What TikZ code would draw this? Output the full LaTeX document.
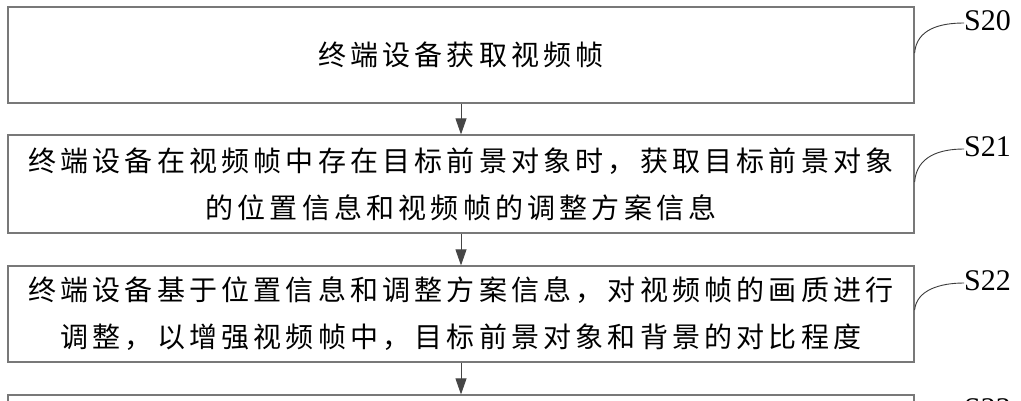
\documentclass[tikz,border=0pt]{standalone}
\usepackage{fontspec}
\newfontfamily\cjk[LetterSpace=15]{Noto Sans CJK SC}
\newfontfamily\labfont{Liberation Serif}
\usetikzlibrary{arrows.meta}
\definecolor{boxgray}{RGB}{120,120,120}
\definecolor{arrowgray}{RGB}{70,70,70}
\definecolor{leadgray}{RGB}{60,60,60}
\begin{document}
\begin{tikzpicture}[x=1pt,y=-1pt,
  stepbox/.style={draw=boxgray, line width=1.2pt, minimum width=906pt, inner sep=0pt, align=center, font=\cjk\fontsize{28}{47}\selectfont, text=black},
  flow/.style={draw=arrowgray, line width=0.9pt, -{Triangle[length=16pt,width=11pt]}},
  lead/.style={draw=leadgray, line width=0.9pt},
  steplabel/.style={font=\labfont\fontsize{30}{30}\selectfont, anchor=west, inner sep=0pt, text=black}]
\useasboundingbox (0,0) rectangle (1021,400);
\fill[white] (0,0) rectangle (1021,400);

\node[stepbox, minimum height=96pt] (b1) at (461,55) {终端设备获取视频帧};
\node[stepbox, minimum height=98pt] (b2) at (461,184) {终端设备在视频帧中存在目标前景对象时，获取目标前景对象\\的位置信息和视频帧的调整方案信息};
\node[stepbox, minimum height=96pt] (b3) at (461,314) {终端设备基于位置信息和调整方案信息，对视频帧的画质进行\\调整，以增强视频帧中，目标前景对象和背景的对比程度};
\node[stepbox, minimum height=96pt] (b4) at (461,443) {};

\draw[flow] (b1.south) -- (b2.north);
\draw[flow] (b2.south) -- (b3.north);
\draw[flow] (b3.south) -- (b4.north);

\node[steplabel] (l1) at (964,21) {S20};
\node[steplabel] (l2) at (964,147) {S21};
\node[steplabel] (l3) at (964,281) {S22};
\node[steplabel] (l4) at (964,409) {S23};

\draw[lead] ([yshift=2pt]b1.east) .. controls +(2,-24) and +(-24,0) .. ([yshift=-2pt]l1.west);
\draw[lead] ([yshift=2pt]b2.east) .. controls +(2,-26) and +(-24,0) .. ([yshift=-2pt]l2.west);
\draw[lead] ([yshift=4pt]b3.east) .. controls +(2,-20) and +(-24,0) .. ([yshift=-2pt]l3.west);
\draw[lead] ([yshift=2pt]b4.east) .. controls +(2,-24) and +(-24,0) .. ([yshift=-2pt]l4.west);
\end{tikzpicture}
\end{document}
